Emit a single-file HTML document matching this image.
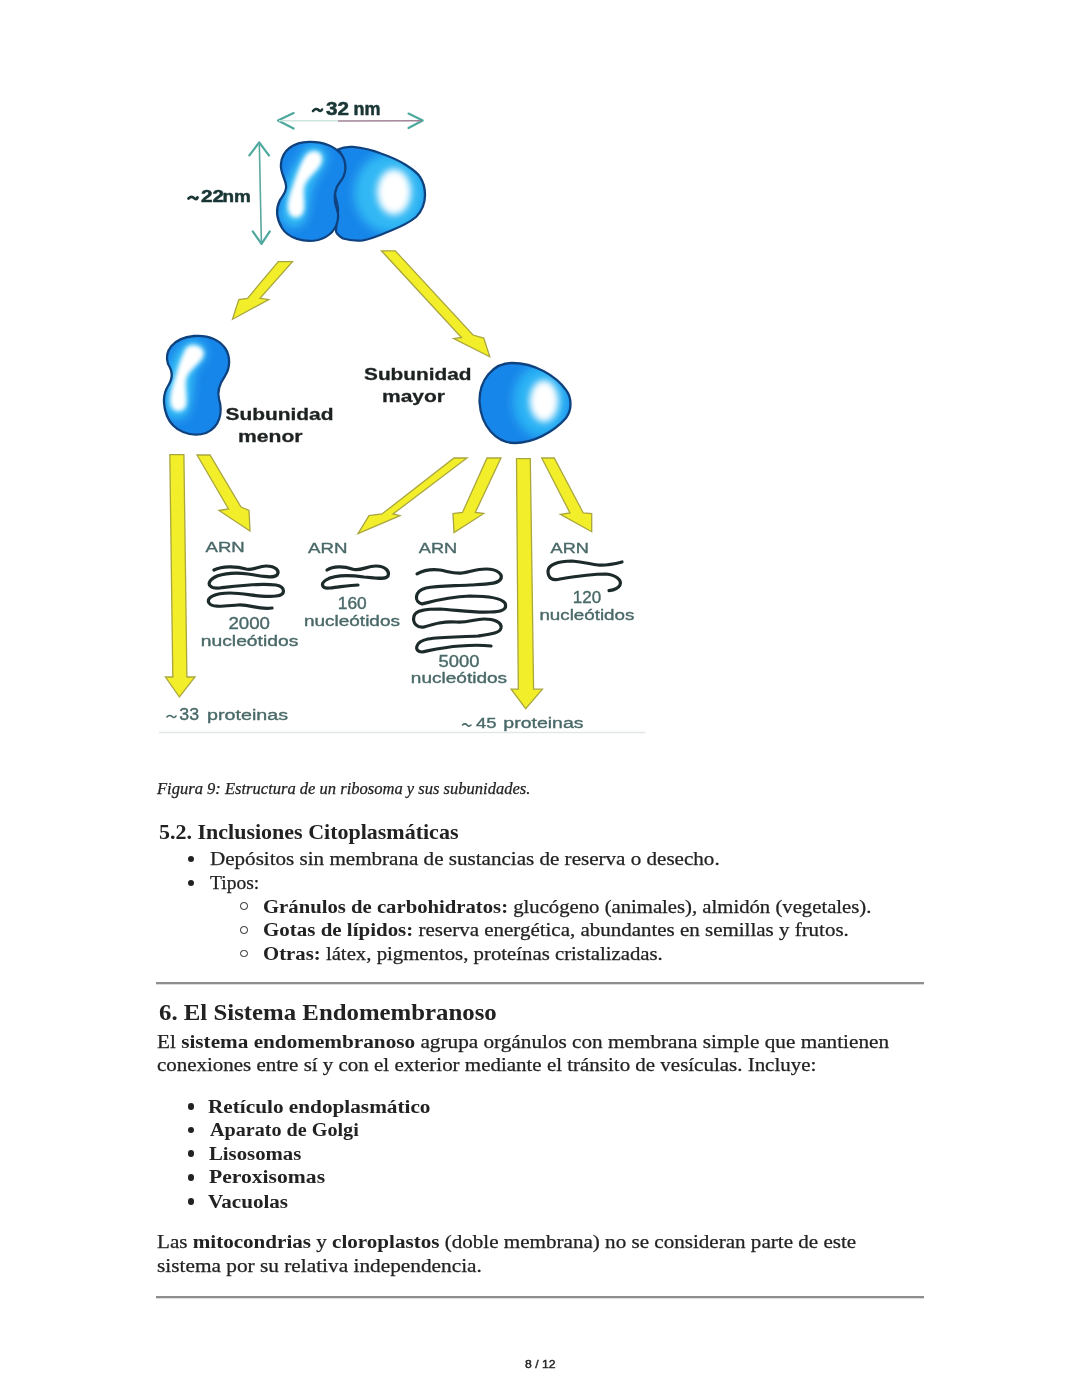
<!DOCTYPE html>
<html><head><meta charset="utf-8"><title>page</title>
<style>
html,body{margin:0;padding:0;background:#fff;}
body{width:1080px;height:1397px;position:relative;overflow:hidden;}
.ln{position:absolute;white-space:nowrap;line-height:1;color:#222;transform-origin:0 0;-webkit-text-stroke:0.25px #222;}
.ln b{font-weight:bold;-webkit-text-stroke:0;}
.dot{position:absolute;width:6.5px;height:6.5px;border-radius:50%;background:#222;}
.circ{position:absolute;width:5.6px;height:5.6px;border-radius:50%;border:1.3px solid #222;}
.rule{position:absolute;left:156px;width:767.5px;height:2px;background:#8e8e8e;box-shadow:0 1px 0 #dcdcdc;}
#dg{position:absolute;left:0;top:0;}
</style></head><body>
<svg id="dg" width="700" height="760" viewBox="0 0 700 760">
<defs>
<filter id="bl1" filterUnits="userSpaceOnUse" x="0" y="0" width="700" height="760"><feGaussianBlur stdDeviation="2"/></filter>
<filter id="bl2" filterUnits="userSpaceOnUse" x="0" y="0" width="700" height="760"><feGaussianBlur stdDeviation="3.5"/></filter>
<filter id="bl3" filterUnits="userSpaceOnUse" x="0" y="0" width="700" height="760"><feGaussianBlur stdDeviation="5"/></filter>
<filter id="bl0" x="-20%" y="-20%" width="140%" height="140%"><feGaussianBlur stdDeviation="0.45"/></filter>
<filter id="allblur" filterUnits="userSpaceOnUse" x="0" y="0" width="700" height="760"><feGaussianBlur stdDeviation="0.55"/></filter>
</defs>
<g filter="url(#allblur)">

<!-- dimension arrows -->
<g fill="none" stroke="#4ea89e" stroke-width="2.2" stroke-linecap="round" stroke-linejoin="round">
<path d="M293.6,113.1 L278,120.6 L293.6,128.6"/>
<path d="M408.5,113.6 L422.7,120.6 L408.5,128"/>
<path d="M249.4,155.4 L259.2,142.4 L268.9,155.4"/>
<path d="M252.7,231.3 L261.5,243.8 L269.8,231.3"/>
</g>
<line x1="279" y1="120.8" x2="338" y2="120.8" stroke="#cfe6e0" stroke-width="1.4"/>
<line x1="338" y1="121" x2="421" y2="120.8" stroke="#a08496" stroke-width="1.5"/>
<line x1="259.3" y1="143" x2="261.4" y2="243" stroke="#5aa8a0" stroke-width="1.6"/>

<g font-family="'Liberation Sans', sans-serif" font-weight="bold" fill="#1a3536" stroke="#1a3536" stroke-width="0.5">
<path d="M313,111 C315,108.5 317,108.5 318.5,110 C320,111.5 321,111.5 322,109.5" fill="none" stroke-width="2.6" stroke-linecap="round"/>
<path d="M188.5,198.5 C190.5,196.5 192.5,196.5 194,198 C195.5,199.5 196.5,199.5 197.5,197.5" fill="none" stroke-width="2.8" stroke-linecap="round"/>
<text x="326" y="115.4" font-size="18" textLength="23" lengthAdjust="spacingAndGlyphs">32</text>
<text x="353.5" y="115.4" font-size="19" textLength="27" lengthAdjust="spacingAndGlyphs">nm</text>
<text x="201" y="201.5" font-size="15.8" textLength="23" lengthAdjust="spacingAndGlyphs">22</text>
<text x="222.5" y="201.5" font-size="16.5" textLength="28.3" lengthAdjust="spacingAndGlyphs">nm</text>
</g>

<clipPath id="cLL"><path d="M338,149.6 C343,147 348,146.5 353,146.9 C364,148 372,150 381,153.5 C391,157 398,160 405,164.5 C412,169 417,172 420,177 C424,183 425,188 425,195 C425,203 423,210 416,217 C409,223 400,227 390,231 C380,235 372,239 363,240.3 C355,241 348,240 343,238.5 C339,236 336,234 336,231 C336,224 338,216 338,209 C338,203 335,199 335,193 C335,188 337,186 338,184 C343,178 346,172 345,166 C344,160 342,154 338,149.6 Z"/></clipPath>
<clipPath id="cSL"><path d="M309,141.8 C322,141.5 334,146 341,154 C347,162 347,174 340,182 C336,187 334,195 335,202 C336,208 339,212 338,218 C337,228 332,236 318,240 C304,243 288,238 282,228 C276,218 276,208 280,200 C284,194 287,190 286,185 C285,178 280,172 281,164 C282,150 294,142 309,141.8 Z"/></clipPath>
<clipPath id="cSS"><path d="M194,336 C208,335 219,340 225,348 C231,357 230,368 225,376 C220,383 217,391 219,399 C223,412 220,427 206,433 C191,438 173,431 167,416 C163,405 163,394 168,386 C173,378 173,372 168,364 C164,352 172,338 194,336 Z"/></clipPath>
<clipPath id="cLS"><path d="M512,363 C535,363 556,376 566,390 C572,398 572,410 566,418 C553,433 532,443 515,443 C496,443 481,426 479.5,402 C479,380 493,363 512,363 Z"/></clipPath>
<!-- complex large lobe -->
<path d="M338,149.6 C343,147 348,146.5 353,146.9 C364,148 372,150 381,153.5 C391,157 398,160 405,164.5 C412,169 417,172 420,177 C424,183 425,188 425,195 C425,203 423,210 416,217 C409,223 400,227 390,231 C380,235 372,239 363,240.3 C355,241 348,240 343,238.5 C339,236 336,234 336,231 C336,224 338,216 338,209 C338,203 335,199 335,193 C335,188 337,186 338,184 C343,178 346,172 345,166 C344,160 342,154 338,149.6 Z" fill="#1886ea"/>
<g clip-path="url(#cLL)">
<ellipse cx="390" cy="193" rx="36" ry="40" fill="#30b8f4" filter="url(#bl3)"/>
<ellipse cx="394" cy="192" rx="17" ry="23" fill="#ffffff" filter="url(#bl2)"/>
</g>
<path d="M338,149.6 C343,147 348,146.5 353,146.9 C364,148 372,150 381,153.5 C391,157 398,160 405,164.5 C412,169 417,172 420,177 C424,183 425,188 425,195 C425,203 423,210 416,217 C409,223 400,227 390,231 C380,235 372,239 363,240.3 C355,241 348,240 343,238.5 C339,236 336,234 336,231 C336,224 338,216 338,209 C338,203 335,199 335,193 C335,188 337,186 338,184 C343,178 346,172 345,166 C344,160 342,154 338,149.6 Z" fill="none" stroke="#11427f" stroke-width="2.3"/>
<!-- complex small lobe -->
<path d="M309,141.8 C322,141.5 334,146 341,154 C347,162 347,174 340,182 C336,187 334,195 335,202 C336,208 339,212 338,218 C337,228 332,236 318,240 C304,243 288,238 282,228 C276,218 276,208 280,200 C284,194 287,190 286,185 C285,178 280,172 281,164 C282,150 294,142 309,141.8 Z" fill="#1886ea"/>
<g clip-path="url(#cSL)">
<path d="M314,158 C310,168 300,176 298,190 C297,200 295,206 294,214" fill="none" stroke="#34bef6" stroke-width="26" stroke-linecap="round" filter="url(#bl3)"/>
<path d="M314,151 C321,151 324,157 321,164 C316,173 306,178 304,188 C303,198 306,206 303,213 C300,219 292,219 289,213 C286,205 289,196 293,185 C296,176 300,165 304,158 C307,153 310,151 314,151 Z" fill="#ffffff" filter="url(#bl1)"/>
</g>
<path d="M309,141.8 C322,141.5 334,146 341,154 C347,162 347,174 340,182 C336,187 334,195 335,202 C336,208 339,212 338,218 C337,228 332,236 318,240 C304,243 288,238 282,228 C276,218 276,208 280,200 C284,194 287,190 286,185 C285,178 280,172 281,164 C282,150 294,142 309,141.8 Z" fill="none" stroke="#11427f" stroke-width="2.3"/>
<!-- small subunit -->
<path d="M194,336 C208,335 219,340 225,348 C231,357 230,368 225,376 C220,383 217,391 219,399 C223,412 220,427 206,433 C191,438 173,431 167,416 C163,405 163,394 168,386 C173,378 173,372 168,364 C164,352 172,338 194,336 Z" fill="#1886ea"/>
<g clip-path="url(#cSS)">
<path d="M193,353 C185,360 180,372 180,385 C180,394 178,400 177,406" fill="none" stroke="#34bef6" stroke-width="26" stroke-linecap="round" filter="url(#bl3)"/>
<path d="M193,345 C200,345 206,350 203,357 C198,366 188,370 186,380 C185,390 188,400 186,406 C184,412 176,413 172,408 C168,400 171,390 175,378 C178,368 180,360 184,352 C186,347 189,345 193,345 Z" fill="#ffffff" filter="url(#bl1)"/>
</g>
<path d="M194,336 C208,335 219,340 225,348 C231,357 230,368 225,376 C220,383 217,391 219,399 C223,412 220,427 206,433 C191,438 173,431 167,416 C163,405 163,394 168,386 C173,378 173,372 168,364 C164,352 172,338 194,336 Z" fill="none" stroke="#11427f" stroke-width="2.3"/>
<!-- large subunit -->
<path d="M512,363 C535,363 556,376 566,390 C572,398 572,410 566,418 C553,433 532,443 515,443 C496,443 481,426 479.5,402 C479,380 493,363 512,363 Z" fill="#1886ea"/>
<g clip-path="url(#cLS)">
<ellipse cx="541" cy="401" rx="28" ry="36" fill="#2cb2f4" filter="url(#bl3)"/>
<ellipse cx="544" cy="401" rx="14.5" ry="21" fill="#ffffff" filter="url(#bl2)"/>
</g>
<path d="M512,363 C535,363 556,376 566,390 C572,398 572,410 566,418 C553,433 532,443 515,443 C496,443 481,426 479.5,402 C479,380 493,363 512,363 Z" fill="none" stroke="#11427f" stroke-width="2.3"/>

<!-- yellow arrows -->
<g fill="#f3ee2a" stroke="#a9a63e" stroke-width="1.3" stroke-linejoin="miter" filter="url(#bl0)">
<!-- A1 down-left to small subunit -->
<path d="M278.3,261.7 L292.5,261.7 L260,298.3 L268.8,299.6 L232.5,319.2 L238.8,299.6 L247.5,298.3 Z"/>
<!-- A2 down-right to large subunit -->
<path d="M381.4,250.8 L395.3,250.8 L473,335 L483.7,338.1 L489.8,356.8 L453.7,338.7 L461.5,337.5 Z"/>
<!-- V1 vertical left -->
<path d="M169.8,454.6 L183.9,454.6 L186.9,677 L195,677 L179.4,697 L165.4,677 L172.8,677 Z"/>
<!-- D1 diagonal small -->
<path d="M197,455 L210,455 L241,507 L249,510.5 L250,531 L219,510.5 L228.5,509 Z"/>
<!-- D3 long down-left -->
<path d="M454,458 L467,458 L393,514 L400,515.6 L358,533.7 L369,515.6 L382,514 Z"/>
<!-- D4 short down-left -->
<path d="M487,458 L501,458 L475.3,512.4 L483.8,513.5 L454,532.6 L453,513.5 L462.5,512.4 Z"/>
<!-- V5 vertical right -->
<path d="M516.5,458.7 L530.3,458.7 L533.6,689.2 L542.4,689.2 L525.7,708.6 L511.1,689.2 L518.3,689.2 Z"/>
<!-- D6 diagonal right -->
<path d="M541.7,458 L554.2,458 L583.3,513 L591.7,513.6 L591.7,531.7 L560.4,514.3 L570,513 Z"/>
</g>

<!-- squiggles -->
<g fill="none" stroke="#1c2a2a" stroke-width="3.2" stroke-linecap="round" stroke-linejoin="round" filter="url(#bl0)">
<path d="M214,570 C222,566 236,566 246,569 C254,571 258,566 266,566 C276,566 280,571 277,575 C273,579 262,576 248,574 C232,572 218,574 212,579 C206,584 210,589 220,588 C236,586 256,583 276,585 C286,587 286,595 276,596 C262,598 246,593 230,593 C214,593 206,598 209,603 C212,608 224,606 238,605 C250,604 258,610 272,608"/>
<path d="M327,570 C333,566 344,566 352,569 C360,572 366,566 376,566 C386,566 390,572 388,576 C385,580 376,578 364,577 C350,575 334,575 326,580 C320,584 322,589 330,588 C340,587 350,585 358,585"/>
<path d="M417,573.8 C424,570 432,569 440,570 C450,572 455,574 462,573 C470,572 476,569 486,569 C498,569 504,575 500,580 C496,584 488,584 470,585 C452,586 436,586 426,588 C414,591 414,602 422,604 C430,602 446,597 470,596 C486,596 500,597 505,603 C508,610 500,612 490,612 C476,613 456,610 440,609 C426,609 416,610 414,616 C412,624 418,628 424,627 C434,624 444,621 456,622 C468,623 474,619 484,619 C494,619 502,622 501,628 C500,633 492,634 478,636 C460,637 440,637 428,639 C414,642 414,652 422,652 C432,650 444,647 460,646 C472,645 482,645 491,646"/>
<path d="M622,562 C614,564 606,566 598,565 C590,564 584,562 572,561 C558,561 548,565 548,571 C548,578 552,581 560,579 C572,577 590,574 606,574 C616,575 622,580 620,585 C618,589 614,590 609,590.6"/>
</g>

<!-- labels -->
<g font-family="'Liberation Sans', sans-serif" font-weight="bold" fill="#1e2222" stroke="#1e2222" stroke-width="0.3" font-size="17">
<text x="225.5" y="420" textLength="108" lengthAdjust="spacingAndGlyphs">Subunidad</text>
<text x="238" y="441.7" textLength="64.5" lengthAdjust="spacingAndGlyphs">menor</text>
<text x="364" y="380" textLength="107.5" lengthAdjust="spacingAndGlyphs">Subunidad</text>
<text x="382" y="401.7" textLength="63" lengthAdjust="spacingAndGlyphs">mayor</text>
</g>
<g font-family="'Liberation Sans', sans-serif" fill="#4a6868" stroke="#4a6868" stroke-width="0.35" font-size="14.5">
<text x="205.6" y="552.3" textLength="39.2" lengthAdjust="spacingAndGlyphs">ARN</text>
<text x="308.1" y="552.9" textLength="39.4" lengthAdjust="spacingAndGlyphs">ARN</text>
<text x="418.8" y="552.9" textLength="38.4" lengthAdjust="spacingAndGlyphs">ARN</text>
<text x="550.6" y="552.8" textLength="38.3" lengthAdjust="spacingAndGlyphs">ARN</text>
<text x="228.5" y="629.2" font-size="17.3" textLength="41.5" lengthAdjust="spacingAndGlyphs">2000</text>
<text x="200.8" y="646.2" textLength="97.5" lengthAdjust="spacingAndGlyphs">nucleótidos</text>
<text x="337.8" y="609.4" font-size="16" textLength="28.9" lengthAdjust="spacingAndGlyphs">160</text>
<text x="303.9" y="626.1" textLength="96.1" lengthAdjust="spacingAndGlyphs">nucleótidos</text>
<text x="438.5" y="667" font-size="15.6" textLength="40.9" lengthAdjust="spacingAndGlyphs">5000</text>
<text x="410.8" y="683.4" textLength="96.3" lengthAdjust="spacingAndGlyphs">nucleótidos</text>
<text x="572.8" y="602.8" font-size="16.2" textLength="28.3" lengthAdjust="spacingAndGlyphs">120</text>
<text x="539.4" y="620" textLength="95" lengthAdjust="spacingAndGlyphs">nucleótidos</text>
<text x="179.3" y="719.5" font-size="16.5" textLength="19.8" lengthAdjust="spacingAndGlyphs">33</text>
<text x="207" y="719.5" font-size="15.5" textLength="81" lengthAdjust="spacingAndGlyphs">proteinas</text>
<text x="476" y="727.5" font-size="15.5" textLength="20.5" lengthAdjust="spacingAndGlyphs">45</text>
<text x="503.3" y="727.5" font-size="15.5" textLength="80.3" lengthAdjust="spacingAndGlyphs">proteinas</text>
<path d="M167,717 C168.5,715 170.5,715 172,716.5 C173.5,718 174.5,718 176,716" fill="none" stroke-width="1.6" stroke-linecap="round"/>
<path d="M462.5,725 C464,723.5 466,723.5 467,725 C468,726.5 469.5,726.5 471,725" fill="none" stroke-width="1.6" stroke-linecap="round"/>
</g>
<line x1="159" y1="732.5" x2="645.5" y2="732.5" stroke="#e2e6e6" stroke-width="1.5"/>
</g>
</svg>

<div class="ln" id="cap" style="left:157.19px;top:780.81px;font-family:'Liberation Serif', serif;font-size:16px;font-style:italic;transform:scaleX(1.0334)">Figura 9: Estructura de un ribosoma y sus subunidades.</div>
<div class="ln" id="h52" style="left:158.95px;top:821.81px;font-family:'Liberation Serif', serif;font-size:21px;font-weight:bold;-webkit-text-stroke:0;transform:scaleX(1.0475)">5.2. Inclusiones Citoplasmáticas</div>
<div class="ln" id="b1" style="left:209.93px;top:850.21px;font-family:'Liberation Serif', serif;font-size:18.5px;;transform:scaleX(1.1390)">Depósitos sin membrana de sustancias de reserva o desecho.</div>
<div class="ln" id="b2" style="left:210.44px;top:873.71px;font-family:'Liberation Serif', serif;font-size:18.5px;;transform:scaleX(1.0551)">Tipos:</div>
<div class="ln" id="s1" style="left:262.66px;top:897.51px;font-family:'Liberation Serif', serif;font-size:18.5px;;transform:scaleX(1.1192)"><b>Gránulos de carbohidratos:</b> glucógeno (animales), almidón (vegetales).</div>
<div class="ln" id="s2" style="left:262.64px;top:921.31px;font-family:'Liberation Serif', serif;font-size:18.5px;;transform:scaleX(1.1330)"><b>Gotas de lípidos:</b> reserva energética, abundantes en semillas y frutos.</div>
<div class="ln" id="s3" style="left:262.65px;top:945.01px;font-family:'Liberation Serif', serif;font-size:18.5px;;transform:scaleX(1.1229)"><b>Otras:</b> látex, pigmentos, proteínas cristalizadas.</div>
<div class="ln" id="h6" style="left:158.92px;top:1000.70px;font-family:'Liberation Serif', serif;font-size:23px;font-weight:bold;-webkit-text-stroke:0;transform:scaleX(1.0788)">6. El Sistema Endomembranoso</div>
<div class="ln" id="p1" style="left:156.93px;top:1032.51px;font-family:'Liberation Serif', serif;font-size:18.5px;;transform:scaleX(1.1468)">El <b>sistema endomembranoso</b> agrupa orgánulos con membrana simple que mantienen</div>
<div class="ln" id="p2" style="left:156.93px;top:1055.81px;font-family:'Liberation Serif', serif;font-size:18.5px;;transform:scaleX(1.1328)">conexiones entre sí y con el exterior mediante el tránsito de vesículas. Incluye:</div>
<div class="ln" id="e1" style="left:207.85px;top:1097.51px;font-family:'Liberation Serif', serif;font-size:18.5px;font-weight:bold;-webkit-text-stroke:0;transform:scaleX(1.1485)">Retículo endoplasmático</div>
<div class="ln" id="e2" style="left:210.00px;top:1120.81px;font-family:'Liberation Serif', serif;font-size:18.5px;font-weight:bold;-webkit-text-stroke:0;transform:scaleX(1.0883)">Aparato de Golgi</div>
<div class="ln" id="e3" style="left:208.98px;top:1144.51px;font-family:'Liberation Serif', serif;font-size:18.5px;font-weight:bold;-webkit-text-stroke:0;transform:scaleX(1.1223)">Lisosomas</div>
<div class="ln" id="e4" style="left:208.83px;top:1168.31px;font-family:'Liberation Serif', serif;font-size:18.5px;font-weight:bold;-webkit-text-stroke:0;transform:scaleX(1.1684)">Peroxisomas</div>
<div class="ln" id="e5" style="left:207.72px;top:1192.51px;font-family:'Liberation Serif', serif;font-size:18.5px;font-weight:bold;-webkit-text-stroke:0;transform:scaleX(1.1397)">Vacuolas</div>
<div class="ln" id="q1" style="left:156.93px;top:1233.31px;font-family:'Liberation Serif', serif;font-size:18.5px;;transform:scaleX(1.1395)">Las <b>mitocondrias</b> y <b>cloroplastos</b> (doble membrana) no se consideran parte de este</div>
<div class="ln" id="q2" style="left:156.92px;top:1256.71px;font-family:'Liberation Serif', serif;font-size:18.5px;;transform:scaleX(1.1518)">sistema por su relativa independencia.</div>
<div class="ln" id="ft" style="left:524.72px;top:1358.90px;font-family:'Liberation Sans', sans-serif;font-size:11.5px;-webkit-text-stroke:0.4px #222;transform:scaleX(1.0595)">8 / 12</div>
<div class="dot" style="left:187.95px;top:855.85px"></div>
<div class="dot" style="left:187.95px;top:879.75px"></div>
<div class="dot" style="left:187.95px;top:1103.15px"></div>
<div class="dot" style="left:187.95px;top:1126.65px"></div>
<div class="dot" style="left:187.95px;top:1150.35px"></div>
<div class="dot" style="left:187.95px;top:1174.15px"></div>
<div class="dot" style="left:187.95px;top:1198.25px"></div>
<div class="circ" style="left:240.10px;top:902.40px"></div>
<div class="circ" style="left:240.10px;top:926.20px"></div>
<div class="circ" style="left:240.10px;top:949.90px"></div>
<div class="rule" style="top:982.4px"></div>
<div class="rule" style="top:1295.8px"></div>
</body></html>
